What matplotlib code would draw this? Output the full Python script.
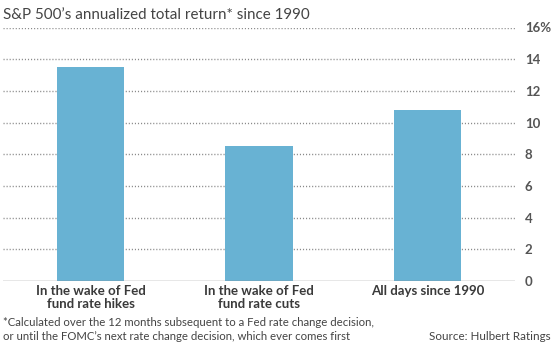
import numpy as np
import matplotlib.pyplot as plt

# dados
categorias = ['In the wake of Fed\nfund rate hikes', 'In the wake of Fed\nfund rate cuts', 'All days since 1990']
retornos = [13.5, 8.5, 10.8]
ticks_y = [0, 2, 4, 6, 8, 10, 12, 14, 16]
rotulos_y = ['0', '2', '4', '6', '8', '10', '12', '14', '16%']

plt.rcParams['font.family'] = ['Lato', 'DejaVu Sans']

fig = plt.figure(figsize=(5.54, 3.43), dpi=100)
ax = fig.add_axes([3 / 554, (343 - 281) / 343, 512 / 554, 253.5 / 343])

x = np.arange(len(categorias))
ax.bar(x, retornos, width=0.4, color='#68b2d3', zorder=3)

ax.set_xlim(-0.52, 2.52)
ax.set_ylim(0, 16)

# linhas de grade pontilhadas
for t in ticks_y[1:]:
    ax.axhline(t, linestyle=(0, (0.8, 1.4)), color='#8a8a8a', linewidth=1.0, zorder=1)
ax.axhline(0, color='#888888', linewidth=1.0, zorder=4)

for s in ax.spines.values():
    s.set_visible(False)

ax.set_yticks(ticks_y)
ax.set_yticklabels(rotulos_y)
ax.yaxis.tick_right()
ax.tick_params(axis='y', length=0, pad=7, labelsize=9.5, labelcolor='#555555')
for lbl in ax.get_yticklabels():
    lbl.set_fontweight('bold')

ax.set_xticks(x)
ax.set_xticklabels(categorias, fontsize=9.5, fontweight='bold', color='#3a3a3a', linespacing=1.1)
ax.tick_params(axis='x', length=0, pad=3)

fig.text(3 / 554, 1 - 15 / 343, "S&P 500\u2019s annualized total return* since 1990",
         fontsize=10.9, color='#444444', va='center', ha='left')
fig.text(3 / 554, 1 - 323 / 343, "*Calculated over the 12 months subsequent to a Fed rate change decision,",
         fontsize=8.2, color='#444444', va='center', ha='left')
fig.text(3 / 554, 1 - 337 / 343, "or until the FOMC\u2019s next rate change decision, which ever comes first",
         fontsize=8.2, color='#444444', va='center', ha='left')
fig.text(551 / 554, 1 - 337 / 343, "Source: Hulbert Ratings",
         fontsize=8.4, color='#444444', va='center', ha='right')

fig.savefig('out.png', dpi=100)
